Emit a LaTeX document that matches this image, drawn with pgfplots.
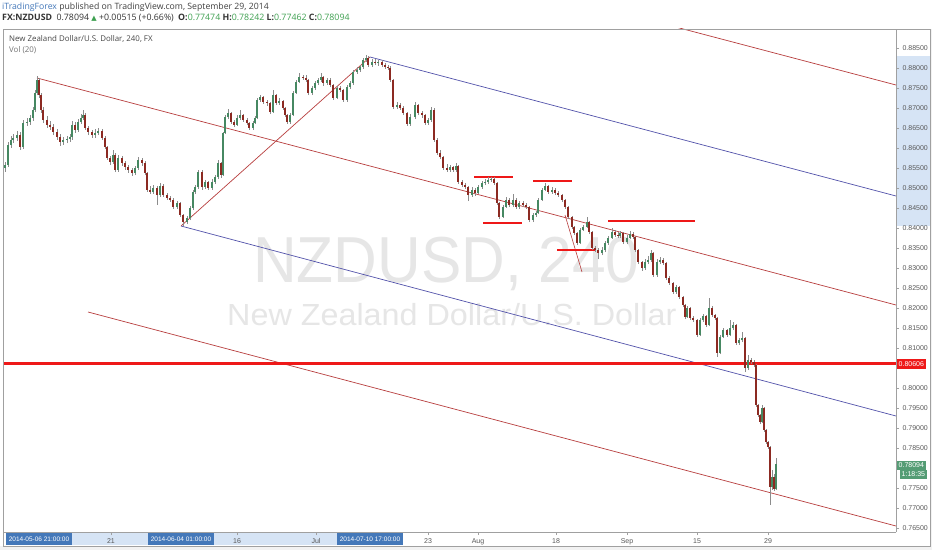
\documentclass[border=0pt]{standalone}
\usepackage{fontspec}
\setmainfont{Liberation Sans}
\newfontfamily\uifont{Open Sans}
\newfontfamily\symfont{DejaVu Sans}
\usepackage{pgfplots}
\pgfplotsset{compat=1.18}
\usepackage{pgfplotstable}

\definecolor{upbody}{RGB}{70,136,98}
\definecolor{dnbody}{RGB}{140,42,34}
\definecolor{wick}{RGB}{140,140,140}
\definecolor{chred}{RGB}{184,62,62}
\definecolor{chblue}{RGB}{82,82,170}
\definecolor{hotred}{RGB}{238,24,24}
\definecolor{tvblue}{RGB}{68,120,185}
\definecolor{tvband}{RGB}{214,228,245}
\definecolor{tvgreen}{RGB}{62,160,80}
\definecolor{lastgreen}{RGB}{84,156,116}
\definecolor{frame}{RGB}{160,160,160}
\definecolor{wmark}{RGB}{230,230,230}

% 4h candles, x = bar position on the time axis
\pgfplotstableread{
x o h l c
5 0.85500 0.85650 0.85400 0.85575
8 0.85575 0.86150 0.85530 0.86075
11 0.86075 0.86300 0.86000 0.86200
13 0.86200 0.86350 0.86120 0.86250
17 0.86250 0.86420 0.86180 0.86325
20 0.86325 0.86400 0.85950 0.86025
23 0.86025 0.86700 0.85980 0.86625
27 0.86625 0.86750 0.86550 0.86650
30 0.86650 0.86820 0.86580 0.86750
33 0.86750 0.87020 0.86680 0.86950
35 0.86950 0.87450 0.86900 0.87375
37 0.87375 0.87800 0.87320 0.87700
39 0.87700 0.87760 0.87250 0.87325
41 0.87325 0.87380 0.86880 0.86950
43 0.86950 0.87020 0.86620 0.86700
47 0.86700 0.86800 0.86500 0.86575
50 0.86575 0.86680 0.86450 0.86525
53 0.86525 0.86600 0.86320 0.86400
57 0.86400 0.86480 0.86200 0.86275
60 0.86275 0.86350 0.86050 0.86150
63 0.86150 0.86280 0.86080 0.86200
67 0.86200 0.86300 0.86120 0.86225
70 0.86225 0.86350 0.86150 0.86275
72 0.86275 0.86680 0.86200 0.86575
75 0.86575 0.86650 0.86380 0.86450
78 0.86450 0.86720 0.86400 0.86650
81 0.86650 0.86840 0.86600 0.86750
83 0.86750 0.86950 0.86700 0.86825
85 0.86825 0.86880 0.86450 0.86500
88 0.86500 0.86550 0.86320 0.86400
92 0.86400 0.86450 0.86250 0.86325
95 0.86325 0.86480 0.86260 0.86375
98 0.86375 0.86500 0.86320 0.86425
102 0.86425 0.86480 0.86200 0.86250
105 0.86250 0.86300 0.85980 0.86025
107 0.86025 0.86050 0.85700 0.85750
110 0.85750 0.85800 0.85580 0.85650
113 0.85650 0.85950 0.85600 0.85825
115 0.85825 0.85880 0.85400 0.85450
118 0.85450 0.85820 0.85400 0.85750
122 0.85750 0.85800 0.85550 0.85625
125 0.85625 0.85680 0.85450 0.85525
128 0.85525 0.85580 0.85380 0.85450
132 0.85450 0.85500 0.85300 0.85375
135 0.85375 0.85560 0.85320 0.85500
138 0.85500 0.85780 0.85450 0.85700
142 0.85700 0.85760 0.85550 0.85625
145 0.85625 0.85680 0.85320 0.85375
147 0.85375 0.85400 0.84900 0.84950
150 0.84950 0.85050 0.84850 0.84900
153 0.84900 0.85080 0.84850 0.85000
157 0.85000 0.85050 0.84580 0.84825
160 0.84825 0.85120 0.84780 0.85050
163 0.85050 0.85100 0.84780 0.84825
167 0.84825 0.84880 0.84700 0.84750
170 0.84750 0.84800 0.84650 0.84700
173 0.84700 0.84750 0.84480 0.84525
177 0.84525 0.84680 0.84480 0.84625
180 0.84625 0.84650 0.84280 0.84325
183 0.84325 0.84350 0.84050 0.84150
187 0.84150 0.84300 0.84100 0.84250
190 0.84250 0.84550 0.84200 0.84500
193 0.84500 0.84950 0.84450 0.84900
195 0.84900 0.85080 0.84850 0.85025
198 0.85025 0.85450 0.84980 0.85400
202 0.85400 0.85450 0.84950 0.85025
205 0.85025 0.85200 0.84980 0.85150
208 0.85150 0.85180 0.84950 0.85000
212 0.85000 0.85220 0.84950 0.85150
215 0.85150 0.85320 0.85100 0.85275
218 0.85275 0.85700 0.85220 0.85625
221 0.85625 0.85650 0.85250 0.85325
223 0.85325 0.86400 0.85300 0.86375
225 0.86375 0.86830 0.86350 0.86775
228 0.86775 0.86980 0.86720 0.86875
231 0.86875 0.86900 0.86600 0.86650
234 0.86650 0.86700 0.86520 0.86575
237 0.86575 0.86820 0.86550 0.86750
240 0.86750 0.86950 0.86700 0.86825
243 0.86825 0.86860 0.86650 0.86700
247 0.86700 0.86740 0.86580 0.86625
249 0.86625 0.86650 0.86450 0.86500
253 0.86500 0.86680 0.86460 0.86625
255 0.86625 0.86800 0.86600 0.86750
257 0.86750 0.87250 0.86720 0.87200
260 0.87200 0.87320 0.87150 0.87275
263 0.87275 0.87300 0.87100 0.87150
267 0.87150 0.87200 0.87050 0.87125
270 0.87125 0.87150 0.86850 0.86900
273 0.86900 0.87450 0.86880 0.87325
276 0.87325 0.87360 0.87080 0.87125
279 0.87125 0.87250 0.87080 0.87175
283 0.87175 0.87200 0.86950 0.87000
285 0.87000 0.87030 0.86780 0.86825
287 0.86825 0.86850 0.86600 0.86650
290 0.86650 0.86880 0.86600 0.86825
293 0.86825 0.87420 0.86800 0.87375
296 0.87375 0.87700 0.87350 0.87650
299 0.87650 0.87880 0.87620 0.87775
303 0.87775 0.87830 0.87700 0.87750
306 0.87750 0.87820 0.87650 0.87700
308 0.87700 0.87730 0.87320 0.87375
312 0.87375 0.87550 0.87330 0.87500
315 0.87500 0.87680 0.87460 0.87625
318 0.87625 0.87750 0.87580 0.87700
321 0.87700 0.87880 0.87660 0.87775
323 0.87775 0.87800 0.87560 0.87625
327 0.87625 0.87760 0.87580 0.87700
330 0.87700 0.87740 0.87520 0.87575
333 0.87575 0.87600 0.87200 0.87250
337 0.87250 0.87560 0.87220 0.87500
340 0.87500 0.87550 0.87400 0.87450
343 0.87450 0.87480 0.87150 0.87200
347 0.87200 0.87580 0.87160 0.87525
350 0.87525 0.87680 0.87480 0.87625
353 0.87625 0.87950 0.87580 0.87900
357 0.87900 0.88020 0.87850 0.87950
360 0.87950 0.88080 0.87900 0.88025
363 0.88025 0.88250 0.87980 0.88200
366 0.88200 0.88330 0.88150 0.88250
368 0.88250 0.88300 0.88020 0.88075
372 0.88075 0.88220 0.88020 0.88150
375 0.88150 0.88220 0.88080 0.88125
378 0.88125 0.88200 0.88060 0.88150
382 0.88150 0.88200 0.88020 0.88075
385 0.88075 0.88120 0.87980 0.88025
388 0.88025 0.88080 0.87950 0.88000
390 0.88000 0.88050 0.87650 0.87700
393 0.87700 0.87730 0.86980 0.87025
397 0.87025 0.87150 0.86980 0.87075
400 0.87075 0.87120 0.86950 0.87000
403 0.87000 0.87050 0.86820 0.86875
407 0.86875 0.86900 0.86550 0.86600
410 0.86600 0.86850 0.86550 0.86775
415 0.86775 0.87150 0.86720 0.87075
418 0.87075 0.87100 0.86820 0.86875
422 0.86875 0.86920 0.86750 0.86825
425 0.86825 0.86850 0.86580 0.86625
428 0.86625 0.86750 0.86580 0.86700
431 0.86700 0.87020 0.86650 0.86950
434 0.86950 0.87000 0.86150 0.86200
437 0.86200 0.86250 0.85820 0.85875
440 0.85875 0.85950 0.85720 0.85775
443 0.85775 0.85800 0.85450 0.85500
447 0.85500 0.85600 0.85400 0.85450
450 0.85450 0.85580 0.85400 0.85525
453 0.85525 0.85560 0.85400 0.85450
456 0.85450 0.85620 0.85400 0.85550
458 0.85550 0.85580 0.85100 0.85150
462 0.85150 0.85200 0.85020 0.85075
465 0.85075 0.85120 0.84970 0.85025
468 0.85025 0.85050 0.84670 0.84825
472 0.84825 0.85020 0.84780 0.84950
475 0.84950 0.85000 0.84800 0.84875
478 0.84875 0.85080 0.84850 0.85025
482 0.85025 0.85180 0.84980 0.85125
485 0.85125 0.85220 0.85080 0.85150
488 0.85150 0.85270 0.85100 0.85200
491 0.85200 0.85280 0.85150 0.85225
494 0.85225 0.85280 0.85080 0.85125
497 0.85125 0.85150 0.84580 0.84625
499 0.84625 0.84650 0.84220 0.84275
503 0.84275 0.84580 0.84250 0.84525
506 0.84525 0.84780 0.84500 0.84700
509 0.84700 0.84750 0.84520 0.84575
513 0.84575 0.84850 0.84520 0.84700
516 0.84700 0.84750 0.84480 0.84525
519 0.84525 0.84680 0.84480 0.84625
523 0.84625 0.84670 0.84520 0.84575
526 0.84575 0.84620 0.84480 0.84525
529 0.84525 0.84550 0.84150 0.84200
533 0.84200 0.84380 0.84150 0.84325
536 0.84325 0.84420 0.84280 0.84375
538 0.84375 0.84750 0.84350 0.84700
542 0.84700 0.85000 0.84680 0.84950
545 0.84950 0.85120 0.84920 0.85050
548 0.85050 0.85080 0.84850 0.84900
552 0.84900 0.85020 0.84850 0.84950
555 0.84950 0.85000 0.84820 0.84875
558 0.84875 0.84920 0.84780 0.84825
562 0.84825 0.84850 0.84650 0.84700
565 0.84700 0.84730 0.84480 0.84525
568 0.84525 0.84550 0.84220 0.84275
572 0.84275 0.84300 0.83980 0.84025
574 0.84025 0.84050 0.83820 0.83875
577 0.83875 0.83900 0.83570 0.83625
580 0.83625 0.84000 0.83600 0.83950
583 0.83950 0.84080 0.83920 0.84025
587 0.84025 0.84270 0.84000 0.84150
589 0.84150 0.84180 0.83850 0.83900
592 0.83900 0.83920 0.83450 0.83500
595 0.83500 0.83550 0.83400 0.83450
598 0.83450 0.83500 0.83220 0.83375
602 0.83375 0.83520 0.83320 0.83450
605 0.83450 0.83680 0.83400 0.83625
608 0.83625 0.83800 0.83580 0.83750
612 0.83750 0.84000 0.83720 0.83900
615 0.83900 0.83960 0.83780 0.83825
618 0.83825 0.83900 0.83750 0.83800
620 0.83800 0.83930 0.83760 0.83875
623 0.83875 0.83900 0.83600 0.83650
627 0.83650 0.83820 0.83600 0.83750
630 0.83750 0.83920 0.83720 0.83850
633 0.83850 0.83900 0.83720 0.83775
635 0.83775 0.83800 0.83400 0.83450
638 0.83450 0.83480 0.83100 0.83150
642 0.83150 0.83180 0.82930 0.83000
645 0.83000 0.83220 0.82960 0.83150
648 0.83150 0.83300 0.83100 0.83200
651 0.83200 0.83450 0.83150 0.83375
653 0.83375 0.83400 0.82780 0.82825
657 0.82825 0.83220 0.82780 0.83150
660 0.83150 0.83280 0.83100 0.83200
663 0.83200 0.83250 0.83080 0.83125
666 0.83125 0.83150 0.82700 0.82750
669 0.82750 0.82800 0.82580 0.82625
673 0.82625 0.82650 0.82350 0.82400
676 0.82400 0.82580 0.82360 0.82525
679 0.82525 0.82550 0.82220 0.82275
683 0.82275 0.82300 0.82020 0.82075
685 0.82075 0.82100 0.81720 0.81775
687 0.81775 0.82050 0.81750 0.82000
690 0.82000 0.82020 0.81700 0.81750
693 0.81750 0.81800 0.81650 0.81700
697 0.81700 0.81720 0.81280 0.81325
700 0.81325 0.81750 0.81300 0.81700
703 0.81700 0.81860 0.81650 0.81800
706 0.81800 0.81820 0.81520 0.81575
709 0.81575 0.82250 0.81550 0.82000
712 0.82000 0.82050 0.81780 0.81825
715 0.81825 0.81860 0.81700 0.81750
717 0.81750 0.81780 0.80780 0.80875
720 0.80875 0.81320 0.80850 0.81275
723 0.81275 0.81500 0.81250 0.81450
727 0.81450 0.81480 0.81280 0.81325
730 0.81325 0.81700 0.81300 0.81500
733 0.81500 0.81650 0.81450 0.81575
736 0.81575 0.81600 0.81080 0.81125
739 0.81125 0.81250 0.81080 0.81200
742 0.81200 0.81400 0.81150 0.81250
745 0.81250 0.81280 0.80400 0.80500
748 0.80500 0.80820 0.80450 0.80700
751 0.80700 0.80750 0.80600 0.80650
754 0.80650 0.80700 0.80520 0.80575
756 0.80575 0.80600 0.79520 0.79575
758 0.79575 0.79600 0.79280 0.79325
760 0.79325 0.79350 0.79100 0.79150
762 0.79150 0.79580 0.79120 0.79500
764 0.79500 0.79520 0.78900 0.78950
766 0.78950 0.78980 0.78600 0.78650
768 0.78650 0.78680 0.78480 0.78525
770 0.78525 0.78550 0.77080 0.77525
772 0.77525 0.77950 0.77450 0.77775
774 0.77775 0.77850 0.77420 0.77474
776 0.77474 0.78242 0.77462 0.78094
}\candles

\begin{document}
\begin{tikzpicture}[x=1pt,y=1pt]
\useasboundingbox (0,0) rectangle (932,550);
\fill[white] (0,0) rectangle (932,550);
\fill[black!5] (0,0) rectangle (932,4);
\fill[black!5] (930,0) rectangle (932,521);

% header
\node[anchor=base west, inner sep=0, font=\uifont\fontsize{8.7}{10}\selectfont] at (2,540)
  {\textcolor{tvblue}{iTradingForex} \textcolor{black!75}{published on TradingView.com, September 29, 2014}};
\node[anchor=base west, inner sep=0, font=\uifont\fontsize{8.8}{10}\selectfont, text=black!80] at (2,529.5)
  {\textbf{FX:NZDUSD}\enspace 0.78094 {\symfont\fontsize{7}{8}\selectfont\textcolor{tvgreen}{▲}} +0.00515 (+0.66\%)\enspace
   \textbf{O:}\textcolor{tvgreen}{0.77474} \textbf{H:}\textcolor{tvgreen}{0.78242} \textbf{L:}\textcolor{tvgreen}{0.77462} \textbf{C:}\textcolor{tvgreen}{0.78094}};

% selection bands on the scales
\fill[tvband] (37,5) rectangle (370,17.5);
\fill[tvband] (896.5,324) rectangle (930,494);

% watermark
\node[anchor=base west, inner sep=0, text=wmark, font=\fontsize{65}{70}\selectfont, xscale=0.93] at (253,268) {NZDUSD, 240};
\node[anchor=base west, inner sep=0, text=wmark, font=\fontsize{30.5}{34}\selectfont, xscale=1.06] at (227,225) {New Zealand Dollar/U.S. Dollar};

% pane titles
\node[anchor=base west, inner sep=0, font=\uifont\fontsize{7.9}{9}\selectfont, text=black!72] at (9,508) {New Zealand Dollar/U.S. Dollar, 240, FX};
\node[anchor=base west, inner sep=0, font=\uifont\fontsize{7.9}{9}\selectfont, text=black!55] at (9,497) {Vol (20)};

\begin{axis}[
    at={(4pt,18pt)}, anchor=south west,
    scale only axis, width=892pt, height=503pt,
    xmin=4, xmax=896, ymin=0.764, ymax=0.88975,
    axis x line*=bottom, axis y line*=right,
    axis line style={draw=frame, -},
    tick style={draw=frame}, major tick length=3pt, tick align=outside,
    xtick={111,237,316,428,478,556,627,697,768},
    xticklabels={21,16,Jul,23,Aug,18,Sep,15,29},
    ytick={0.765,0.77,0.775,0.785,0.79,0.795,0.8,0.81,0.815,0.82,0.825,0.83,0.835,0.84,0.845,0.85,0.855,0.86,0.865,0.87,0.875,0.88,0.885},
    yticklabel style={font=\fontsize{7}{8}\selectfont, text=black!65, /pgf/number format/.cd, fixed, fixed zerofill, precision=5, assume math mode=true},
    xticklabel style={font=\fontsize{7}{8}\selectfont, text=black!65},
  ]
  % pitchfork
  \addplot[chred, line width=0.7pt] coordinates {(37,0.8775) (896,0.82075)};
  \addplot[chred, line width=0.7pt] coordinates {(88,0.819) (896,0.7655)};
  \addplot[chred, line width=0.7pt] coordinates {(640,0.8926) (896,0.87575)};
  \addplot[chred, line width=0.7pt] coordinates {(181,0.8405) (370,0.88275)};
  \addplot[chblue, line width=0.7pt] coordinates {(370,0.88275) (896,0.848)};
  \addplot[chblue, line width=0.7pt] coordinates {(181,0.8405) (896,0.793)};
  \addplot[chred, line width=0.6pt] coordinates {(565,0.84325) (582,0.829)};
  % levels
  \addplot[hotred, line width=2.6pt] coordinates {(474,0.85275) (513,0.85275)};
  \addplot[hotred, line width=2.6pt] coordinates {(483,0.84125) (522,0.84125)};
  \addplot[hotred, line width=2.6pt] coordinates {(533,0.85175) (572,0.85175)};
  \addplot[hotred, line width=2.6pt] coordinates {(557,0.8345) (595,0.8345)};
  \addplot[hotred, line width=2.6pt] coordinates {(608,0.84175) (695,0.84175)};
  \addplot[hotred, line width=3pt] coordinates {(4,0.80606) (896,0.80606)};
  % candles: wicks, rising bodies, falling bodies
  \addplot[draw=none, error bars/.cd, y dir=both, y explicit, error mark=none,
    error bar style={draw=wick, line width=0.55pt}]
    table[x=x, y=l, y error plus expr={\thisrow{h}-\thisrow{l}}, y error minus expr={0}] {\candles};
  \addplot[draw=none, error bars/.cd, y dir=both, y explicit, error mark=none,
    error bar style={draw=upbody, line width=2.4pt}]
    table[x=x, y=o, y error plus expr={max(\thisrow{c}-\thisrow{o},0)}, y error minus expr={0}] {\candles};
  \addplot[draw=none, error bars/.cd, y dir=both, y explicit, error mark=none,
    error bar style={draw=dnbody, line width=2.4pt}]
    table[x=x, y=o, y error plus expr={0}, y error minus expr={max(\thisrow{o}-\thisrow{c},0)}] {\candles};
\end{axis}

% outer frame
\draw[frame, line width=0.6pt] (3,4) rectangle (930,521);

% date markers on the time scale
\foreach \cx/\txt in {39/2014-05-06 21:00:00, 181/2014-06-04 01:00:00, 370/2014-07-10 17:00:00}
  \node[fill=tvblue, text=white, font=\fontsize{6.5}{7}\selectfont, inner xsep=2.5pt, inner ysep=0pt, minimum height=12pt] at (\cx,11) {\txt};

% price markers on the price scale
\node[fill=hotred, text=white, font=\fontsize{7}{8}\selectfont, inner xsep=1.5pt, inner ysep=0pt, minimum height=10pt, anchor=west] at (897,186) {0.80606};
\node[fill=lastgreen, text=white, font=\fontsize{7}{8}\selectfont, inner xsep=1.5pt, inner ysep=0pt, minimum height=9pt, anchor=west] at (897,84.5) {0.78094};
\node[fill=lastgreen, text=white, font=\fontsize{7}{8}\selectfont, inner xsep=1.5pt, inner ysep=0pt, minimum height=9pt, anchor=west] at (900,75.5) {1:18:35};
\end{tikzpicture}
\end{document}
